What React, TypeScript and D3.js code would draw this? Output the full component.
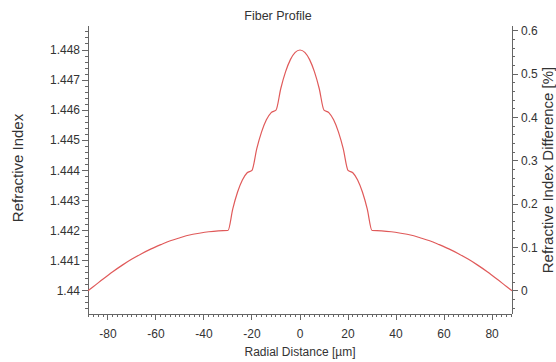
import { useRef, useEffect } from 'react'
import * as d3 from 'd3'

// radial positions [µm] and refractive index
const radius = [
  -88.3, -86, -82, -78, -74, -70, -66, -62, -58, -54, -50, -46, -42, -38, -34,
  -30, -28, -26, -24, -22, -20, -18, -16, -14, -12, -10, -8, -6, -4, -2,
  0, 2, 4, 6, 8, 10, 12, 14, 16, 18, 20, 22, 24, 26, 28, 30,
  34, 38, 42, 46, 50, 54, 58, 62, 66, 70, 74, 78, 82, 86, 88.3,
]
const index = [
  1.44, 1.44014, 1.44039, 1.44063, 1.44085, 1.44105, 1.44123, 1.44139, 1.44153, 1.44166, 1.44176, 1.44185, 1.44191, 1.44196, 1.44199,
  1.442, 1.44272, 1.44328, 1.44368, 1.44392, 1.444, 1.44472, 1.44528, 1.44568, 1.44592, 1.446, 1.44672, 1.44728, 1.44768, 1.44792,
  1.448, 1.44792, 1.44768, 1.44728, 1.44672, 1.446, 1.44592, 1.44568, 1.44528, 1.44472, 1.444, 1.44392, 1.44368, 1.44328, 1.44272, 1.442,
  1.44199, 1.44196, 1.44191, 1.44185, 1.44176, 1.44166, 1.44153, 1.44139, 1.44123, 1.44105, 1.44085, 1.44063, 1.44039, 1.44014, 1.44,
]

const xTicks = [-80, -60, -40, -20, 0, 20, 40, 60, 80]
const yTicks = [1.44, 1.441, 1.442, 1.443, 1.444, 1.445, 1.446, 1.447, 1.448]
const pctTicks = [0, 0.1, 0.2, 0.3, 0.4, 0.5, 0.6]
const nClad = 1.44

const FONT = '"Liberation Sans", Arial, sans-serif'
const AXIS = '#666'
const TEXT = '#333'

export default function App() {
  const svgRef = useRef<SVGSVGElement>(null)

  useEffect(() => {
    if (!svgRef.current) return
    const svg = d3.select(svgRef.current)
    svg.selectAll('*').remove()

    const width = 556
    const left = 88, right = 512, top = 26, bottom = 314

    const x = d3.scaleLinear().domain([-88.3, 88.3]).range([left, right])
    const y = d3.scaleLinear().domain([1.44, 1.448]).range([290.7, 50])
    const yPct = (p: number) => y(nClad * (1 + p / 100))

    // title
    svg.append('text')
      .attr('x', width / 2).attr('y', 20)
      .attr('text-anchor', 'middle')
      .style('font-family', FONT).style('font-size', '12.5px').style('fill', TEXT)
      .text('Fiber Profile')

    const ax = svg.append('g').attr('stroke', AXIS).attr('stroke-width', 1).attr('shape-rendering', 'crispEdges')

    // axis lines
    ax.append('line').attr('x1', left).attr('x2', left).attr('y1', top).attr('y2', bottom)
    ax.append('line').attr('x1', right).attr('x2', right).attr('y1', top).attr('y2', bottom)
    ax.append('line').attr('x1', left).attr('x2', right).attr('y1', bottom).attr('y2', bottom)

    // x ticks
    const xMinor = d3.range(-88, 88.1, 2)
    ax.selectAll('.xm').data(xMinor).join('line')
      .attr('x1', d => x(d)).attr('x2', d => x(d))
      .attr('y1', bottom).attr('y2', bottom + 3)
    ax.selectAll('.xM').data(xTicks).join('line')
      .attr('x1', d => x(d)).attr('x2', d => x(d))
      .attr('y1', bottom).attr('y2', bottom + 6)
    svg.selectAll('.xl').data(xTicks).join('text')
      .attr('x', d => x(d)).attr('y', 338)
      .attr('text-anchor', 'middle')
      .style('font-family', FONT).style('font-size', '12px').style('fill', TEXT)
      .text(d => d)

    // left y ticks
    const yMinor = d3.range(1.4394, 1.4488, 0.0002)
    ax.selectAll('.ym').data(yMinor.filter(v => y(v) >= top && y(v) <= bottom)).join('line')
      .attr('x1', left - 3).attr('x2', left)
      .attr('y1', d => y(d)).attr('y2', d => y(d))
    ax.selectAll('.yM').data(yTicks).join('line')
      .attr('x1', left - 6).attr('x2', left)
      .attr('y1', d => y(d)).attr('y2', d => y(d))
    svg.selectAll('.yl').data(yTicks).join('text')
      .attr('x', left - 8).attr('y', d => y(d)).attr('dy', '0.35em')
      .attr('text-anchor', 'end')
      .style('font-family', FONT).style('font-size', '12px').style('fill', TEXT)
      .text(d => d3.format('.4~f')(d))

    // right % ticks
    const pMinor = d3.range(-0.04, 0.62, 0.02)
    ax.selectAll('.pm').data(pMinor.filter(v => yPct(v) >= top && yPct(v) <= bottom)).join('line')
      .attr('x1', right).attr('x2', right + 3)
      .attr('y1', d => yPct(d)).attr('y2', d => yPct(d))
    ax.selectAll('.pM').data(pctTicks).join('line')
      .attr('x1', right).attr('x2', right + 6)
      .attr('y1', d => yPct(d)).attr('y2', d => yPct(d))
    svg.selectAll('.pl').data(pctTicks).join('text')
      .attr('x', right + 9).attr('y', d => yPct(d)).attr('dy', '0.35em')
      .style('font-family', FONT).style('font-size', '12px').style('fill', TEXT)
      .text(d => d)

    // axis titles
    svg.append('text')
      .attr('transform', `translate(23,168) rotate(-90)`)
      .attr('text-anchor', 'middle')
      .style('font-family', FONT).style('font-size', '15px').style('fill', TEXT)
      .text('Refractive Index')
    svg.append('text')
      .attr('transform', `translate(553,170) rotate(-90)`)
      .attr('text-anchor', 'middle')
      .style('font-family', FONT).style('font-size', '15px').style('fill', TEXT)
      .text('Refractive Index Difference [%]')
    svg.append('text')
      .attr('x', x(0)).attr('y', 356)
      .attr('text-anchor', 'middle')
      .style('font-family', FONT).style('font-size', '12px').style('fill', TEXT)
      .text('Radial Distance [µm]')

    // profile curve
    const pts = radius.map((r, i) => [r, index[i]] as [number, number])
    const line = d3.line<[number, number]>()
      .x(d => x(d[0])).y(d => y(d[1]))
      .curve(d3.curveMonotoneX)
    svg.append('path')
      .attr('d', line(pts))
      .attr('fill', 'none')
      .attr('stroke', '#e05a5a')
      .attr('stroke-width', 1.2)
  }, [])

  return (
    <svg
      ref={svgRef}
      width={556}
      height={362}
      style={{ position: 'absolute', left: 0, top: 0, background: '#fff' }}
    />
  )
}
